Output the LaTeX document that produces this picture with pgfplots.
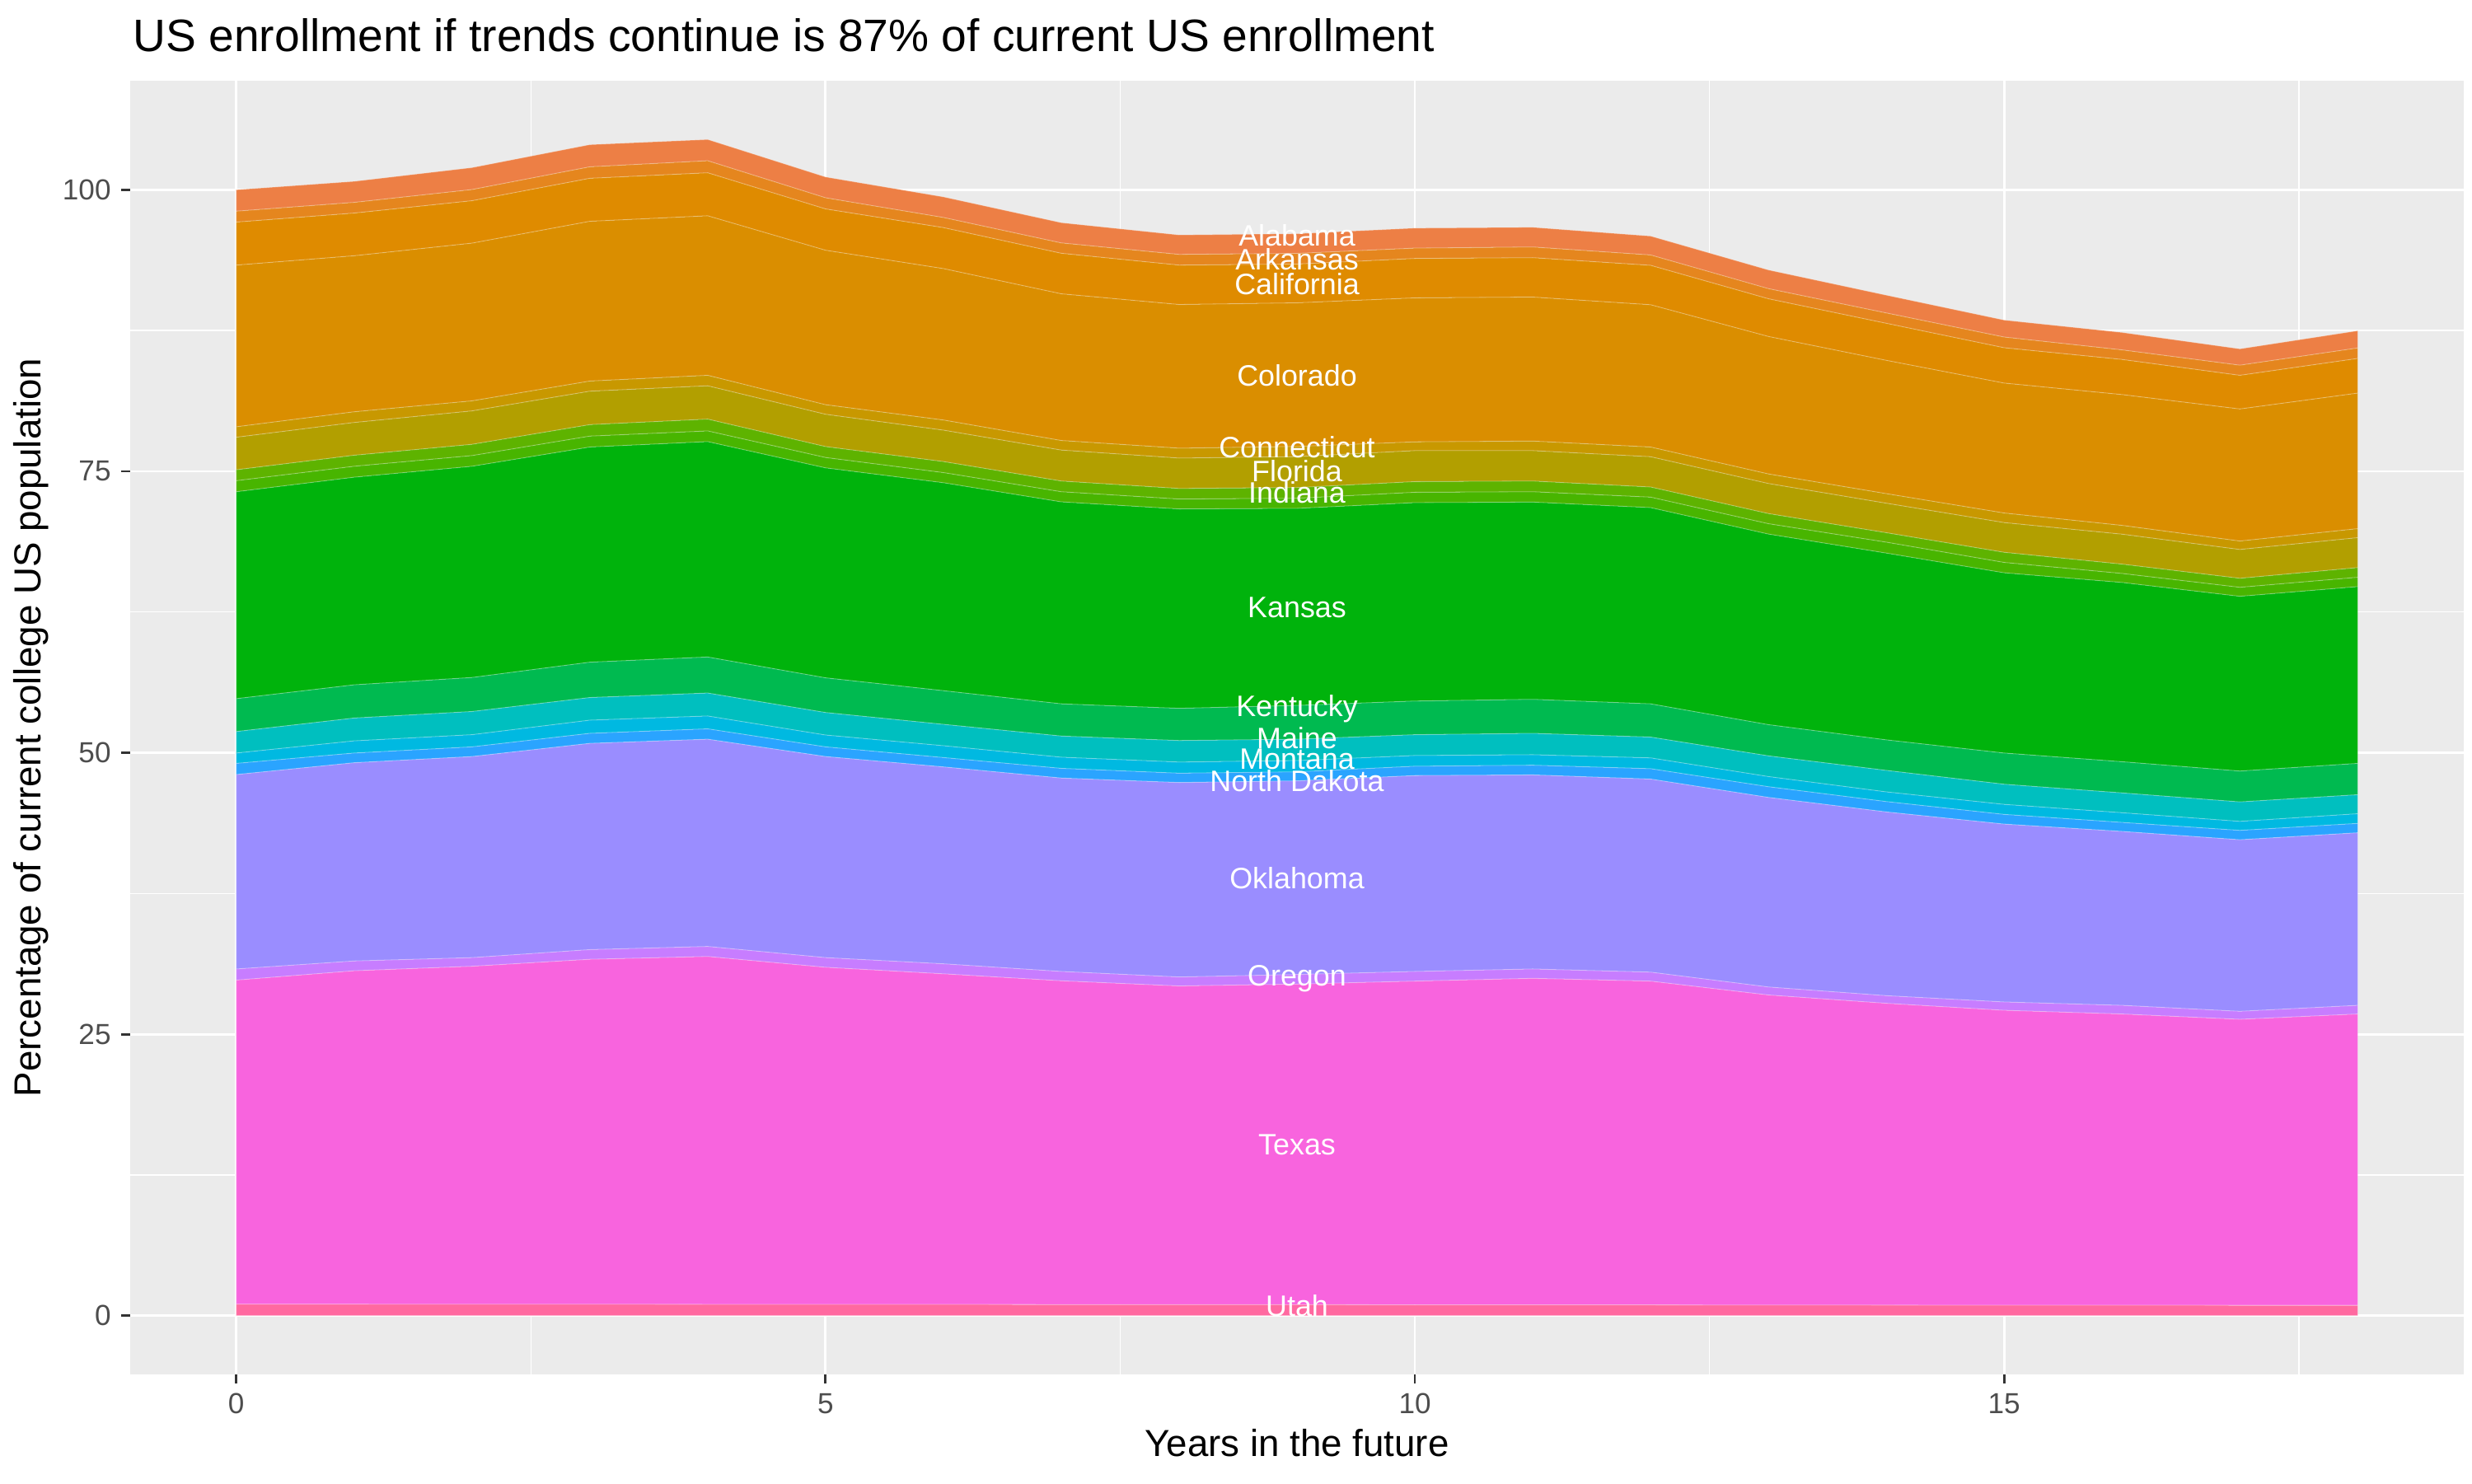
\documentclass[border=0pt]{standalone}
\usepackage{fontspec}
\setmainfont{Liberation Sans}
\usepackage{pgfplots}
\usepackage{pgfplotstable}
\pgfplotsset{compat=1.18}

\definecolor{panel}{HTML}{EBEBEB}
\definecolor{tickgray}{HTML}{4D4D4D}
\definecolor{tickmark}{HTML}{333333}
\definecolor{cAlabama}{HTML}{ED7F45}
\definecolor{cArkansas}{HTML}{E5861E}
\definecolor{cCalifornia}{HTML}{DF8B00}
\definecolor{cColorado}{HTML}{DA8E00}
\definecolor{cConnecticut}{HTML}{C89800}
\definecolor{cFlorida}{HTML}{B29F00}
\definecolor{cIndiana}{HTML}{5EB300}
\definecolor{cIowa}{HTML}{48B500}
\definecolor{cKansas}{HTML}{00B30C}
\definecolor{cKentucky}{HTML}{00BA50}
\definecolor{cMaine}{HTML}{00BFBF}
\definecolor{cMontana}{HTML}{00B9E1}
\definecolor{cNDakota}{HTML}{2AA4FF}
\definecolor{cOklahoma}{HTML}{9A8DFF}
\definecolor{cOregon}{HTML}{C77DFF}
\definecolor{cTexas}{HTML}{F864DE}
\definecolor{cUtah}{HTML}{FF69A0}

\tikzset{lab/.style={font=\fontsize{10.2}{12}\selectfont, text=white, anchor=center,
  text height=0.72em, text depth=0pt, inner sep=0pt}}

% the panel both axes share
\pgfplotsset{panel/.style={
  at={(1.58cm,1.32cm)}, anchor=south west,
  scale only axis,
  width=28.32cm, height=15.70cm,
  xmin=-0.9, xmax=18.9,
  ymin=-5.22, ymax=109.69,
}}

% share of current college US population, per state (stacked bottom -> top)
\pgfplotstableread{
yr Utah Texas Oregon Oklahoma NDakota Montana Maine Kentucky Kansas Iowa Indiana Florida Connecticut Colorado California Arkansas Alabama
0  1.02 28.78 0.99 17.27 0.99 0.92 1.91 2.92 18.38 0.98 0.97 2.89 0.93 14.36 3.82 0.97 1.90
1  1.02 29.61 0.87 17.61 0.86 1.08 2.03 2.95 18.44 0.97 0.98 2.91 0.95 13.86 3.79 0.95 1.87
2  1.01 30.02 0.77 17.86 0.86 1.08 2.06 3.02 18.76 0.95 1.00 2.97 0.89 14.01 3.77 0.99 1.95
3  1.01 30.64 0.86 18.32 0.89 1.17 2.01 3.14 19.11 0.97 1.02 2.97 0.90 14.19 3.82 1.02 1.97
4  1.00 30.90 0.89 18.41 0.92 1.14 2.04 3.20 19.13 0.95 1.05 2.96 0.93 14.17 3.82 1.07 1.89
5  1.00 29.94 0.86 17.86 0.86 1.05 2.00 3.08 18.65 0.92 0.97 2.87 0.85 13.72 3.67 0.99 1.85
6  0.99 29.37 0.89 17.49 0.83 1.05 1.90 2.99 18.47 0.90 0.98 2.79 0.90 13.45 3.64 0.90 1.83
7  0.98 28.76 0.83 17.18 0.86 0.99 1.88 2.86 17.94 0.90 0.95 2.75 0.85 13.03 3.60 0.92 1.80
8  0.97 28.31 0.80 17.27 0.83 0.99 1.91 2.86 17.71 0.88 0.94 2.70 0.88 12.76 3.50 0.95 1.73
9  0.97 28.48 0.85 17.20 0.80 1.00 1.90 3.00 17.50 0.90 0.95 2.75 0.90 12.76 3.44 0.95 1.75
10 0.96 28.75 0.86 17.40 0.83 0.95 1.85 2.99 17.62 0.92 0.95 2.75 0.78 12.79 3.50 0.92 1.78
11 0.96 29.00 0.83 17.24 0.86 0.93 1.90 3.02 17.52 0.92 0.95 2.70 0.85 12.79 3.50 0.95 1.75
12 0.95 28.76 0.80 17.15 0.92 0.96 1.85 2.95 17.43 0.93 0.90 2.69 0.86 12.64 3.50 0.92 1.68
13 0.94 27.54 0.71 16.84 0.95 0.90 1.84 2.77 16.93 0.92 0.90 2.67 0.85 12.21 3.35 0.90 1.66
14 0.93 26.81 0.68 16.32 0.92 0.86 1.91 2.71 16.59 0.97 0.84 2.62 0.85 11.84 3.29 0.92 1.58
15 0.92 26.20 0.74 15.80 0.86 0.89 1.79 2.77 16.01 0.92 0.90 2.64 0.85 11.54 3.14 0.95 1.51
16 0.92 25.87 0.77 15.45 0.80 0.86 1.76 2.77 15.92 0.80 0.83 2.66 0.78 11.62 3.12 0.85 1.55
17 0.91 25.41 0.71 15.24 0.83 0.80 1.73 2.74 15.52 0.80 0.80 2.56 0.75 11.73 2.99 0.90 1.45
18 0.91 25.88 0.77 15.33 0.83 0.86 1.69 2.78 15.70 0.83 0.86 2.66 0.80 12.04 3.08 0.93 1.53
}\enrol

\begin{document}
\begin{tikzpicture}
\useasboundingbox (0,0) rectangle (30cm,18cm);
% grey panel, white grid and ticks
\begin{axis}[
  panel,
  axis background/.style={fill=panel},
  axis line style={draw=none},
  xtick={0,5,10,15}, ytick={0,25,50,75,100},
  minor xtick={2.5,7.5,12.5,17.5},
  minor ytick={12.5,37.5,62.5,87.5},
  grid=both,
  major grid style={white, line width=0.8pt},
  minor grid style={white, line width=0.4pt},
  tick pos=left,
  tick align=outside,
  major tick length=0.11cm,
  minor tick length=0pt,
  major tick style={tickmark, line width=0.8pt},
  tick label style={font=\fontsize{10}{12}\selectfont, text=tickgray},
  /pgf/number format/assume math mode=true,
]
\end{axis}
% the stacked areas
\begin{axis}[
  panel,
  hide axis,
  stack plots=y,
  area style,
  every axis plot/.append style={draw=white, draw opacity=0.22, line width=0.3pt},
]
\addplot[fill=cUtah] table[x=yr, y=Utah] {\enrol} \closedcycle;
\addplot[fill=cTexas] table[x=yr, y=Texas] {\enrol} \closedcycle;
\addplot[fill=cOregon] table[x=yr, y=Oregon] {\enrol} \closedcycle;
\addplot[fill=cOklahoma] table[x=yr, y=Oklahoma] {\enrol} \closedcycle;
\addplot[fill=cNDakota] table[x=yr, y=NDakota] {\enrol} \closedcycle;
\addplot[fill=cMontana] table[x=yr, y=Montana] {\enrol} \closedcycle;
\addplot[fill=cMaine] table[x=yr, y=Maine] {\enrol} \closedcycle;
\addplot[fill=cKentucky] table[x=yr, y=Kentucky] {\enrol} \closedcycle;
\addplot[fill=cKansas] table[x=yr, y=Kansas] {\enrol} \closedcycle;
\addplot[fill=cIowa] table[x=yr, y=Iowa] {\enrol} \closedcycle;
\addplot[fill=cIndiana] table[x=yr, y=Indiana] {\enrol} \closedcycle;
\addplot[fill=cFlorida] table[x=yr, y=Florida] {\enrol} \closedcycle;
\addplot[fill=cConnecticut] table[x=yr, y=Connecticut] {\enrol} \closedcycle;
\addplot[fill=cColorado] table[x=yr, y=Colorado] {\enrol} \closedcycle;
\addplot[fill=cCalifornia] table[x=yr, y=California] {\enrol} \closedcycle;
\addplot[fill=cArkansas] table[x=yr, y=Arkansas] {\enrol} \closedcycle;
\addplot[fill=cAlabama] table[x=yr, y=Alabama] {\enrol} \closedcycle;

% anchor points of the state names, as ggplot placed them
\coordinate (lAlabama) at (axis cs:9,95.95);
\coordinate (lArkansas) at (axis cs:9,93.85);
\coordinate (lCalifornia) at (axis cs:9,91.65);
\coordinate (lColorado) at (axis cs:9,83.5);
\coordinate (lConnecticut) at (axis cs:9,77.15);
\coordinate (lFlorida) at (axis cs:9,75.0);
\coordinate (lIndiana) at (axis cs:9,73.1);
\coordinate (lKansas) at (axis cs:9,62.95);
\coordinate (lKentucky) at (axis cs:9,54.15);
\coordinate (lMaine) at (axis cs:9,51.3);
\coordinate (lMontana) at (axis cs:9,49.45);
\coordinate (lNDakota) at (axis cs:9,47.5);
\coordinate (lOklahoma) at (axis cs:9,38.85);
\coordinate (lOregon) at (axis cs:9,30.2);
\coordinate (lTexas) at (axis cs:9,15.2);
\coordinate (lUtah) at (axis cs:9,0.85);
\end{axis}
\node[lab] at (lAlabama) {Alabama};
\node[lab] at (lArkansas) {Arkansas};
\node[lab] at (lCalifornia) {California};
\node[lab] at (lColorado) {Colorado};
\node[lab] at (lConnecticut) {Connecticut};
\node[lab] at (lFlorida) {Florida};
\node[lab] at (lIndiana) {Indiana};
\node[lab] at (lKansas) {Kansas};
\node[lab] at (lKentucky) {Kentucky};
\node[lab] at (lMaine) {Maine};
\node[lab] at (lMontana) {Montana};
\node[lab] at (lNDakota) {North Dakota};
\node[lab] at (lOklahoma) {Oklahoma};
\node[lab] at (lOregon) {Oregon};
\node[lab] at (lTexas) {Texas};
\node[lab] at (lUtah) {Utah};
\node[anchor=base west, inner sep=0pt, font=\fontsize{15.7}{18}\selectfont]
  at ([xshift=0.03cm, yshift=0.35cm]current axis.north west)
  {US enrollment if trends continue is 87\% of current US enrollment};
\node[anchor=base, inner sep=0pt, font=\fontsize{13}{15}\selectfont]
  at ([yshift=-0.99cm]current axis.south) {Years in the future};
\node[rotate=90, anchor=center, inner sep=0pt, font=\fontsize{13}{15}\selectfont]
  at ([xshift=-1.2cm]current axis.west) {Percentage of current college US population};
\end{tikzpicture}
\end{document}
